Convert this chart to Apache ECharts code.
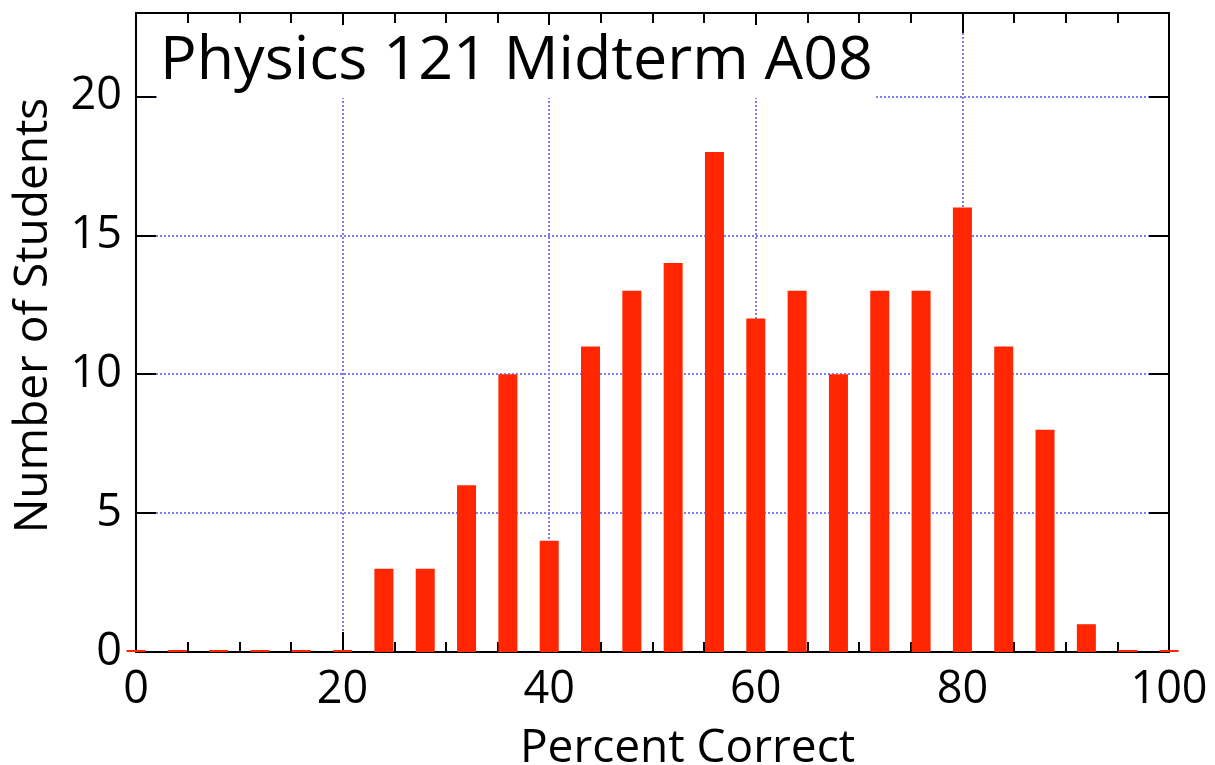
<!DOCTYPE html>
<html>
<head>
<meta charset="utf-8">
<script src="https://cdn.jsdelivr.net/npm/echarts@6/dist/echarts.min.js"></script>
<style>
html,body{margin:0;padding:0;background:#fff;}
#chart{width:1215px;height:765px;}
</style>
</head>
<body>
<div id="chart"></div>
<script>
const binCenters = [0,4,8,12,16,20,24,28,32,36,40,44,48,52,56,60,64,68,72,76,80,84,88,92,96,100];
const counts     = [0,0,0,0,0,0,3,3,6,10,4,11,13,14,18,12,13,10,13,13,16,11,8,1,0,0];
const titleText = 'Physics 121 Midterm A08';
const xName = 'Percent Correct';
const yName = 'Number of Students';

const FONT = '"Open Sans", "DejaVu Sans", sans-serif';
const gridColor = '#7E7EF2';
const barColor = '#FF2600';

const chart = echarts.init(document.getElementById('chart'));
const data = binCenters.map((x, i) => [x, counts[i]]);

const axisCommon = {
  axisLine: { show: true, onZero: false, lineStyle: { color: '#000', width: 2 } },
  axisTick: { show: true, inside: true, length: 20, lineStyle: { color: '#000', width: 2 } }
};

chart.setOption({
  animation: false,
  backgroundColor: '#fff',
  title: {
    text: titleText,
    left: 157, top: 25,
    padding: [6, 2, 6, 3],
    backgroundColor: '#fff',
    textStyle: { fontFamily: FONT, fontSize: 61, fontWeight: 'normal', color: '#000', lineHeight: 61 },
    z: 10
  },
  grid: { left: 136, right: 46, top: 13, bottom: 113, containLabel: false, outerBoundsMode: 'none' },
  xAxis: [
    Object.assign({}, axisCommon, {
      type: 'value', min: 0, max: 100, interval: 20, position: 'bottom',
      minorTick: { show: true, splitNumber: 4, length: 10, lineStyle: { color: '#000', width: 2 } },
      axisLabel: { fontFamily: FONT, fontSize: 45, color: '#000', margin: 16 },
      splitLine: { show: true, lineStyle: { color: gridColor, width: 2, type: [2, 2] } },
      name: xName, nameLocation: 'middle', nameGap: 74,
      nameTextStyle: { fontFamily: FONT, fontSize: 46, color: '#000', padding: [0, 0, 0, 70] }
    }),
    Object.assign({}, axisCommon, {
      type: 'value', min: 0, max: 100, interval: 20, position: 'top',
      minorTick: { show: true, splitNumber: 4, length: 10, lineStyle: { color: '#000', width: 2 } },
      axisLabel: { show: false },
      splitLine: { show: false }
    })
  ],
  yAxis: [
    Object.assign({}, axisCommon, {
      type: 'value', min: 0, max: 23, interval: 5, position: 'left',
      axisLabel: { fontFamily: FONT, fontSize: 45, color: '#000', margin: 14, showMaxLabel: false,
        formatter: v => (v % 5 === 0 ? String(v) : '') },
      splitLine: { show: true, lineStyle: { color: gridColor, width: 2, type: [2, 2] } },
      name: yName, nameLocation: 'middle', nameGap: 79, nameRotate: 90,
      nameTextStyle: { fontFamily: FONT, fontSize: 46, color: '#000', padding: [0, 0, 0, 34] }
    }),
    Object.assign({}, axisCommon, {
      type: 'value', min: 0, max: 23, interval: 5, position: 'right',
      axisLabel: { show: false },
      splitLine: { show: false }
    })
  ],
  series: [{
    type: 'bar',
    data: data,
    xAxisIndex: 0, yAxisIndex: 0,
    barWidth: 19,
    barMinHeight: 2,
    clip: false,
    itemStyle: { color: barColor },
    z: 5
  }]
});
</script>
</body>
</html>
